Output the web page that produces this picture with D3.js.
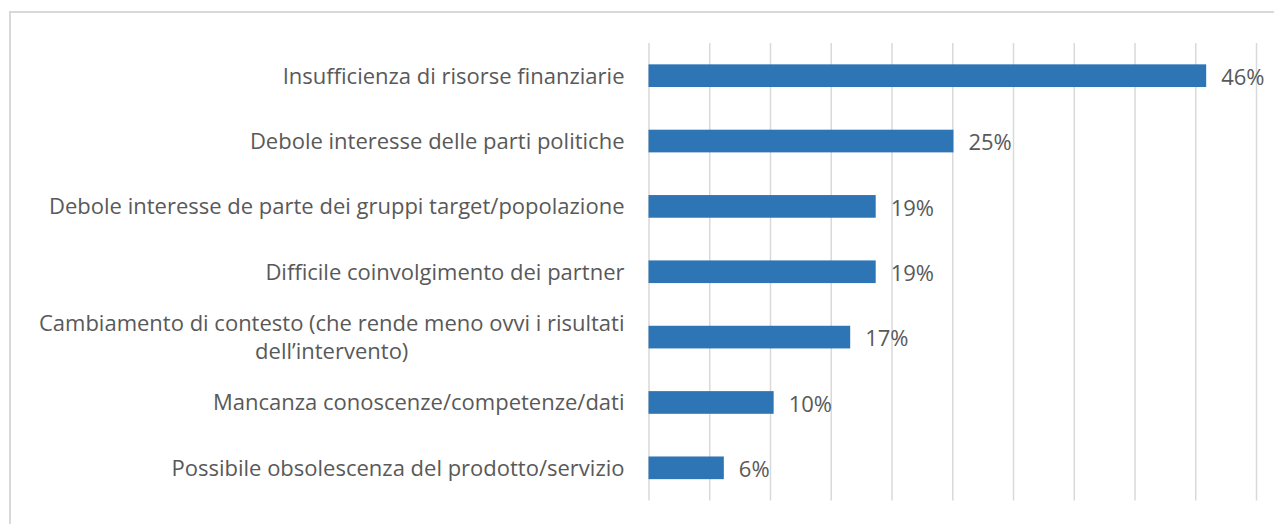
<!DOCTYPE html>
<meta charset="utf-8">
<style>
body { margin: 0; background: #fff; }
text { font-family: "Open Sans", Lato, sans-serif; fill: #595959; }
.grid line { stroke: #d9d9d9; stroke-width: 1.5; }
.grid path { display: none; }
</style>
<svg width="1274" height="524"></svg>
<script src="https://cdn.jsdelivr.net/npm/d3@7/dist/d3.min.js"></script>
<script>
"use strict";

// data
var categories = [
  "Insufficienza di risorse finanziarie",
  "Debole interesse delle parti politiche",
  "Debole interesse de parte dei gruppi target/popolazione",
  "Difficile coinvolgimento dei partner",
  "Cambiamento di contesto (che rende meno ovvi i risultati|dell\u2019intervento)",
  "Mancanza conoscenze/competenze/dati",
  "Possibile obsolescenza del prodotto/servizio"
];
var values = [0.459, 0.251, 0.187, 0.187, 0.166, 0.103, 0.062];
var gridTicks = [0, 0.05, 0.1, 0.15, 0.2, 0.25, 0.3, 0.35, 0.4, 0.45, 0.5];

var svg = d3.select("svg");

// chart frame
svg.append("rect")
  .attr("x", 10).attr("y", 12)
  .attr("width", 1300).attr("height", 600)
  .attr("fill", "none")
  .attr("stroke", "#d9d9d9")
  .attr("stroke-width", 2);

var x = d3.scaleLinear().domain([0, 0.5]).range([648.5, 1256]);
var y = d3.scaleBand()
  .domain(categories)
  .range([43, 500.5])
  .paddingInner(0.653)
  .paddingOuter(0.3265);

// vertical gridlines
svg.append("g")
  .attr("class", "grid")
  .attr("transform", "translate(0,500.5)")
  .call(d3.axisBottom(x).tickValues(gridTicks).tickSize(-(500.5 - 43)).tickFormat(""));

// bars
svg.append("g").selectAll("rect")
  .data(values)
  .enter().append("rect")
    .attr("x", x(0))
    .attr("y", function(d, i) { return y(categories[i]); })
    .attr("width", function(d) { return x(d) - x(0); })
    .attr("height", y.bandwidth())
    .attr("fill", "#2e75b6");

// value labels
svg.append("g").selectAll("text")
  .data(values)
  .enter().append("text")
    .attr("x", function(d) { return x(d) + 15; })
    .attr("y", function(d, i) { return y(categories[i]) + y.bandwidth() / 2; })
    .attr("dy", "0.42em")
    .style("font-size", "22px")
    .text(function(d) { return Math.round(d * 100) + "%"; });

// category labels (wrapped ones are centred in their block)
var labelRight = x(0) - 24;
categories.forEach(function(c, i) {
  var lines = c.split("|");
  var cy = y(c) + y.bandwidth() / 2;
  var g = svg.append("g");
  var texts = lines.map(function(l, k) {
    return g.append("text")
      .attr("y", cy + (k - (lines.length - 1) / 2) * 28)
      .attr("dy", "0.36em")
      .style("font-size", "22px")
      .text(l);
  });
  var widths = texts.map(function(t) { return t.node().getComputedTextLength(); });
  var w = d3.max(widths);
  texts.forEach(function(t, k) {
    t.attr("x", labelRight - w / 2).attr("text-anchor", "middle");
  });
});
</script>
